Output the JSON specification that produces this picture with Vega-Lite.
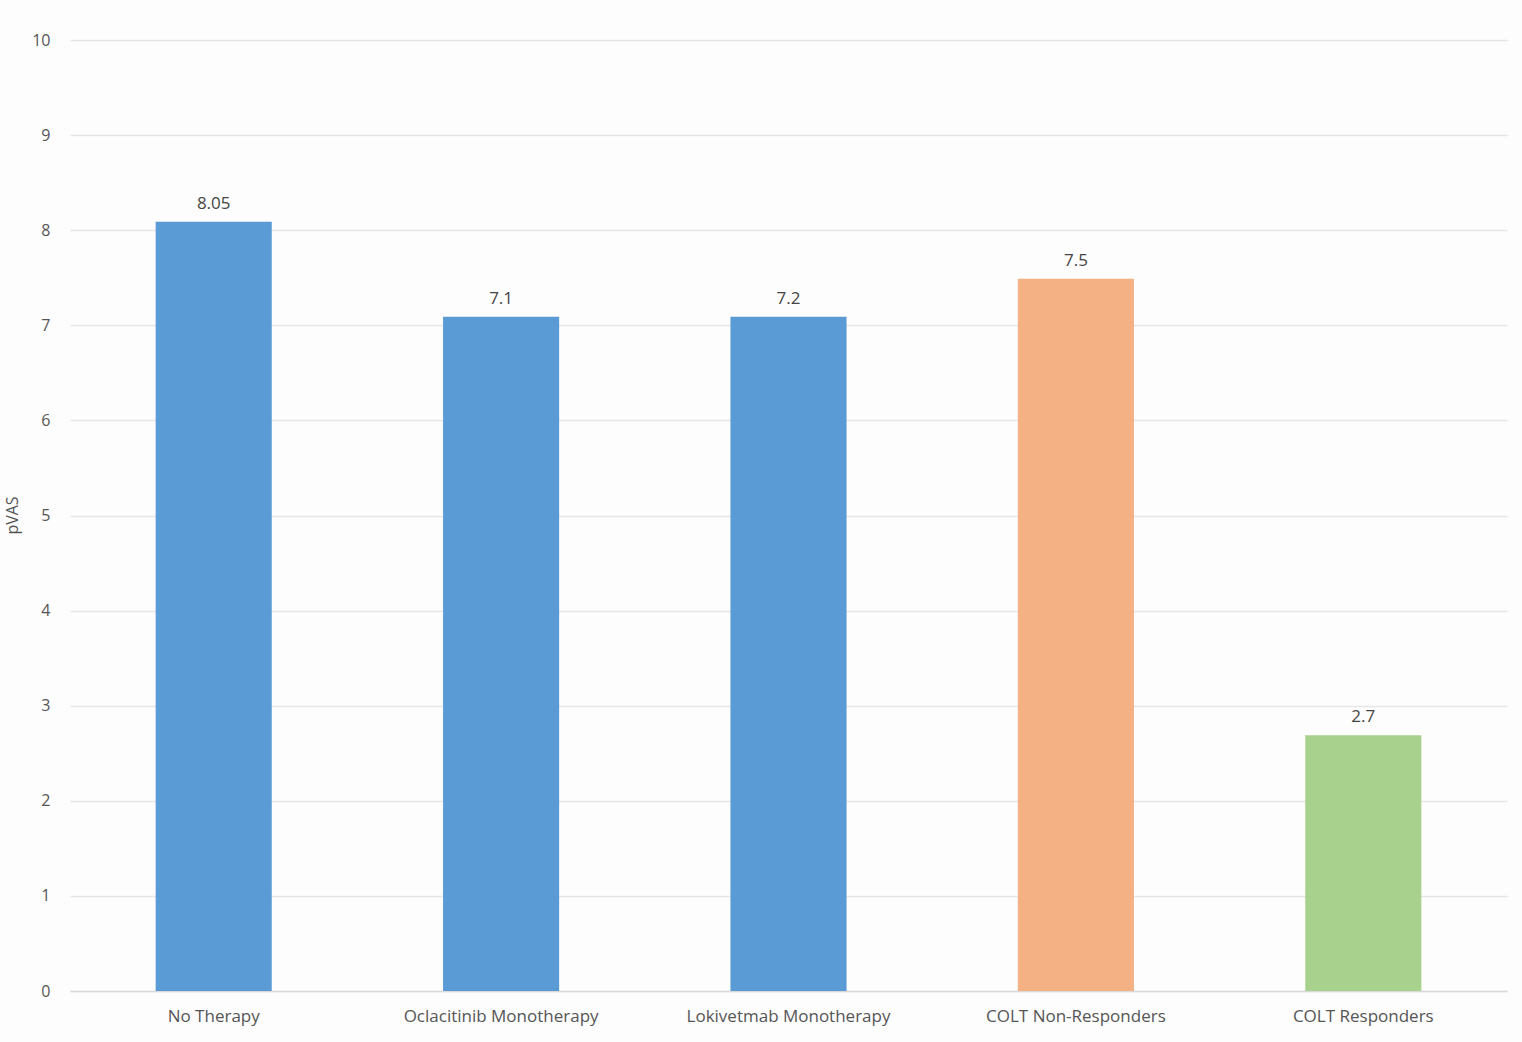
{
  "$schema": "https://vega.github.io/schema/vega-lite/v6.json",
  "width": 1437,
  "height": 951,
  "autosize": {"type": "none"},
  "padding": {"left": 70, "top": 40, "right": 15, "bottom": 51},
  "background": "#fdfdfd",
  "config": {
    "font": "Open Sans",
    "view": {"stroke": null}
  },
  "data": {
    "values": [
      {"group": "No Therapy", "pvas": 8.09, "label": "8.05", "kind": "mono"},
      {"group": "Oclacitinib Monotherapy", "pvas": 7.09, "label": "7.1", "kind": "mono"},
      {"group": "Lokivetmab Monotherapy", "pvas": 7.09, "label": "7.2", "kind": "mono"},
      {"group": "COLT Non-Responders", "pvas": 7.49, "label": "7.5", "kind": "nonresp"},
      {"group": "COLT Responders", "pvas": 2.69, "label": "2.7", "kind": "resp"}
    ]
  },
  "encoding": {
    "x": {
      "field": "group",
      "type": "nominal",
      "sort": null,
      "title": null,
      "scale": {"paddingInner": 0.596, "paddingOuter": 0.298},
      "axis": {
        "labelAngle": 0,
        "labelFontSize": 17,
        "labelLimit": 400,
        "labelColor": "#555555",
        "labelPadding": 17,
        "ticks": false,
        "domainColor": "#d9d9d9",
        "domainWidth": 1.5
      }
    },
    "y": {
      "field": "pvas",
      "type": "quantitative",
      "title": "pVAS",
      "scale": {"domain": [0, 10], "nice": false},
      "axis": {
        "values": [0, 1, 2, 3, 4, 5, 6, 7, 8, 9, 10],
        "labelFontSize": 16,
        "labelColor": "#555555",
        "labelPadding": 20,
        "ticks": false,
        "domain": false,
        "gridColor": "#e6e6e6",
        "gridWidth": 1.5,
        "titleFontSize": 16,
        "titleFontWeight": "normal",
        "titleColor": "#555555",
        "titleX": -58,
        "titleY": 475,
        "titleAngle": -90,
        "titleAlign": "center",
        "titleBaseline": "middle"
      }
    }
  },
  "layer": [
    {
      "mark": {"type": "bar"},
      "encoding": {
        "color": {
          "field": "kind",
          "type": "nominal",
          "legend": null,
          "scale": {
            "domain": ["mono", "nonresp", "resp"],
            "range": ["#5b9bd5", "#f4b183", "#a9d18e"]
          }
        }
      }
    },
    {
      "mark": {"type": "text", "baseline": "bottom", "dy": -9, "fontSize": 17, "color": "#444444"},
      "encoding": {
        "text": {"field": "label"}
      }
    }
  ]
}
